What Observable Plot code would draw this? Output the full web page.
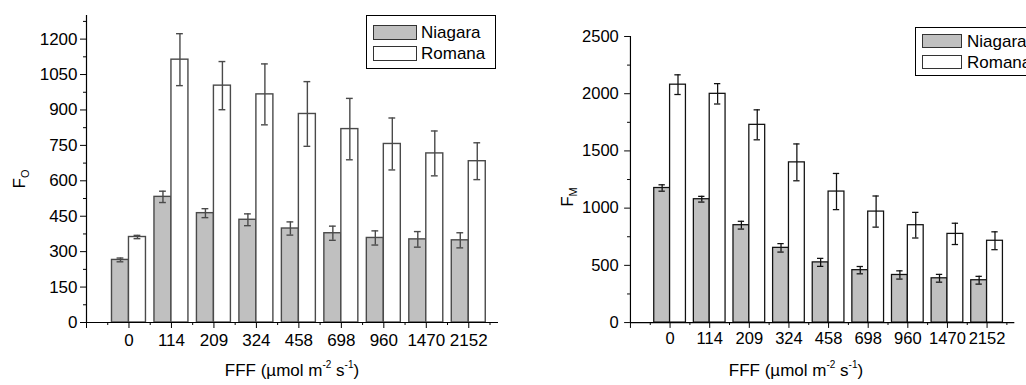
<!DOCTYPE html>
<html>
<head>
<meta charset="utf-8">
<script src="https://cdn.jsdelivr.net/npm/d3@7"></script>
<script src="https://cdn.jsdelivr.net/npm/@observablehq/plot@0.6"></script>
<style>
  html, body { margin: 0; padding: 0; background: #fff; }
  #wrap { position: relative; width: 1026px; height: 385px; overflow: hidden; font-family: "Liberation Sans", Arial, sans-serif; color: #000; }
  .panel { position: absolute; top: 0; }
  .xtitle { position: absolute; font-size: 17px; line-height: 17px; white-space: nowrap; transform: translateX(-50%); }
  .xtitle sup { font-size: 10px; position: relative; top: -1px; vertical-align: super; line-height: 0; }
  .ytitle { position: absolute; font-size: 17px; line-height: 17px; white-space: nowrap; transform: translate(-50%, -50%) rotate(-90deg); }
  .ytitle sub { font-size: 11px; vertical-align: sub; line-height: 0; }
  .legend { position: absolute; border: 1px solid #000; background: #fff; box-sizing: border-box; }
  .legend .item { position: absolute; font-size: 17px; line-height: 17px; white-space: nowrap; }
  .legend .sw { position: absolute; border: 1px solid #333; box-sizing: border-box; }
</style>
</head>
<body>
<div id="wrap">
  <div id="left" class="panel" style="left:0px"></div>
  <div id="right" class="panel" style="left:520px"></div>
</div>
<script>
// ---- data ----
const categories = ["0", "114", "209", "324", "458", "698", "960", "1470", "2152"];
const seriesNames = ["Niagara", "Romana"];
const foNiagara    = [265, 532, 463, 435, 398, 378, 358, 352, 348];
const foNiagaraErr = [8, 24, 19, 25, 28, 30, 30, 33, 32];
const foRomana     = [362, 1113, 1003, 966, 883, 819, 756, 716, 683];
const foRomanaErr  = [7, 110, 102, 129, 137, 130, 110, 95, 78];
const fmNiagara    = [1176, 1078, 851, 653, 526, 458, 416, 387, 370];
const fmNiagaraErr = [28, 25, 34, 37, 35, 32, 36, 34, 34];
const fmRomana     = [2079, 1999, 1728, 1400, 1145, 970, 851, 775, 715];
const fmRomanaErr  = [86, 89, 131, 161, 158, 136, 112, 93, 78];
const foTicks = [0, 150, 300, 450, 600, 750, 900, 1050, 1200];
const fmTicks = [0, 500, 1000, 1500, 2000, 2500];
const xTitle = "FFF (µmol m<sup>-2</sup> s<sup>-1</sup>)";

const colors = {Niagara: "#c0c0c0", Romana: "#ffffff"};

function panel(o) {
  const rows = categories.flatMap((c, i) => [
    {i, x1: i - 0.4, x2: i, v: o.niag[i], e: o.niagErr[i], s: seriesNames[0]},
    {i, x1: i, x2: i + 0.4, v: o.rom[i], e: o.romErr[i], s: seriesNames[1]}
  ]);
  rows.forEach(d => d.c = (d.x1 + d.x2) / 2);
  const capW = 0.08;
  const minorY = d3.range(o.yStep / 2, o.yMax, o.yStep);
  const sc = o.stroke, sw = o.sw;
  return Plot.plot({
    width: o.width, height: o.height,
    marginLeft: o.ml, marginRight: o.mr, marginTop: o.mt, marginBottom: o.mb,
    style: {fontFamily: "'Liberation Sans', Arial, sans-serif", fontSize: "17px", color: "#000", background: "#fff", overflow: "visible"},
    x: {type: "linear", domain: [-1, o.xMax]},
    y: {domain: [0, o.yMax]},
    color: {type: "identity"},
    marks: [
      Plot.rectY(rows, {x1: "x1", x2: "x2", y1: 0, y2: "v", fill: d => colors[d.s], stroke: sc, strokeWidth: sw}),
      Plot.ruleX(rows, {x: "c", y1: d => d.v - d.e, y2: d => d.v + d.e, stroke: sc, strokeWidth: sw}),
      Plot.ruleY(rows, {y: d => d.v + d.e, x1: d => d.c - capW, x2: d => d.c + capW, stroke: sc, strokeWidth: sw}),
      Plot.ruleY(rows, {y: d => d.v - d.e, x1: d => d.c - capW, x2: d => d.c + capW, stroke: sc, strokeWidth: sw}),
      Plot.axisY({ticks: o.yTicks, tickSize: 6, tickPadding: o.yPad, fontSize: 17, label: null, tickFormat: d => String(d)}),
      Plot.axisY({ticks: minorY, tickSize: 3, label: null, tickFormat: () => ""}),
      Plot.axisX({ticks: d3.range(-1, 9), tickSize: 6, tickPadding: o.xPad, fontSize: 17, label: null, tickFormat: i => i >= 0 ? categories[i] : ""}),
      Plot.axisX({ticks: d3.range(-0.5, 9, 1), tickSize: 3, label: null, tickFormat: () => ""}),
      Plot.ruleX([-1], {stroke: "#000", strokeWidth: 1.2}),
      Plot.ruleY([0], {stroke: "#000", strokeWidth: 1.2})
    ]
  });
}

document.getElementById("left").appendChild(panel({
  niag: foNiagara, niagErr: foNiagaraErr, rom: foRomana, romErr: foRomanaErr,
  yMax: 1300, yStep: 150, yTicks: foTicks, xMax: 8.7,
  width: 510, height: 385, ml: 86, mr: 12, mt: 15, mb: 63, yPad: 3, xPad: 5,
  stroke: "#4a4a4a", sw: 1.4
}));
document.getElementById("right").appendChild(panel({
  niag: fmNiagara, niagErr: fmNiagaraErr, rom: fmRomana, romErr: fmRomanaErr,
  yMax: 2500, yStep: 500, yTicks: fmTicks, xMax: 8.7,
  width: 520, height: 385, ml: 113, mr: 12, mt: 37, mb: 54, yPad: 6, xPad: 4,
  stroke: "#111", sw: 1.3
}));

const wrap = document.getElementById("wrap");
function addHTML(html) { wrap.insertAdjacentHTML("beforeend", html); }
addHTML(`<div class="xtitle" style="left:292px; top:362px">${xTitle}</div>`);
addHTML(`<div class="xtitle" style="left:796px; top:362px">${xTitle}</div>`);
addHTML(`<div class="ytitle" style="left:19px; top:179px">F<sub>O</sub></div>`);
addHTML(`<div class="ytitle" style="left:567px; top:197px">F<sub>M</sub></div>`);

function legend(left, top, w, h, swX, swW, swH, rowY, textX) {
  let html = `<div class="legend" style="left:${left}px; top:${top}px; width:${w}px; height:${h}px">`;
  seriesNames.forEach((s, k) => {
    html += `<div class="sw" style="left:${swX}px; top:${rowY[k]}px; width:${swW}px; height:${swH}px; background:${colors[s]}"></div>`;
    html += `<div class="item" style="left:${textX}px; top:${rowY[k] - 1}px">${s}</div>`;
  });
  html += `</div>`;
  addHTML(html);
}
legend(366, 15, 130, 54, 6, 44, 15, [9, 30], 54);
legend(915, 27, 130, 49, 6, 40, 14, [6, 27], 51);
</script>
</body>
</html>
